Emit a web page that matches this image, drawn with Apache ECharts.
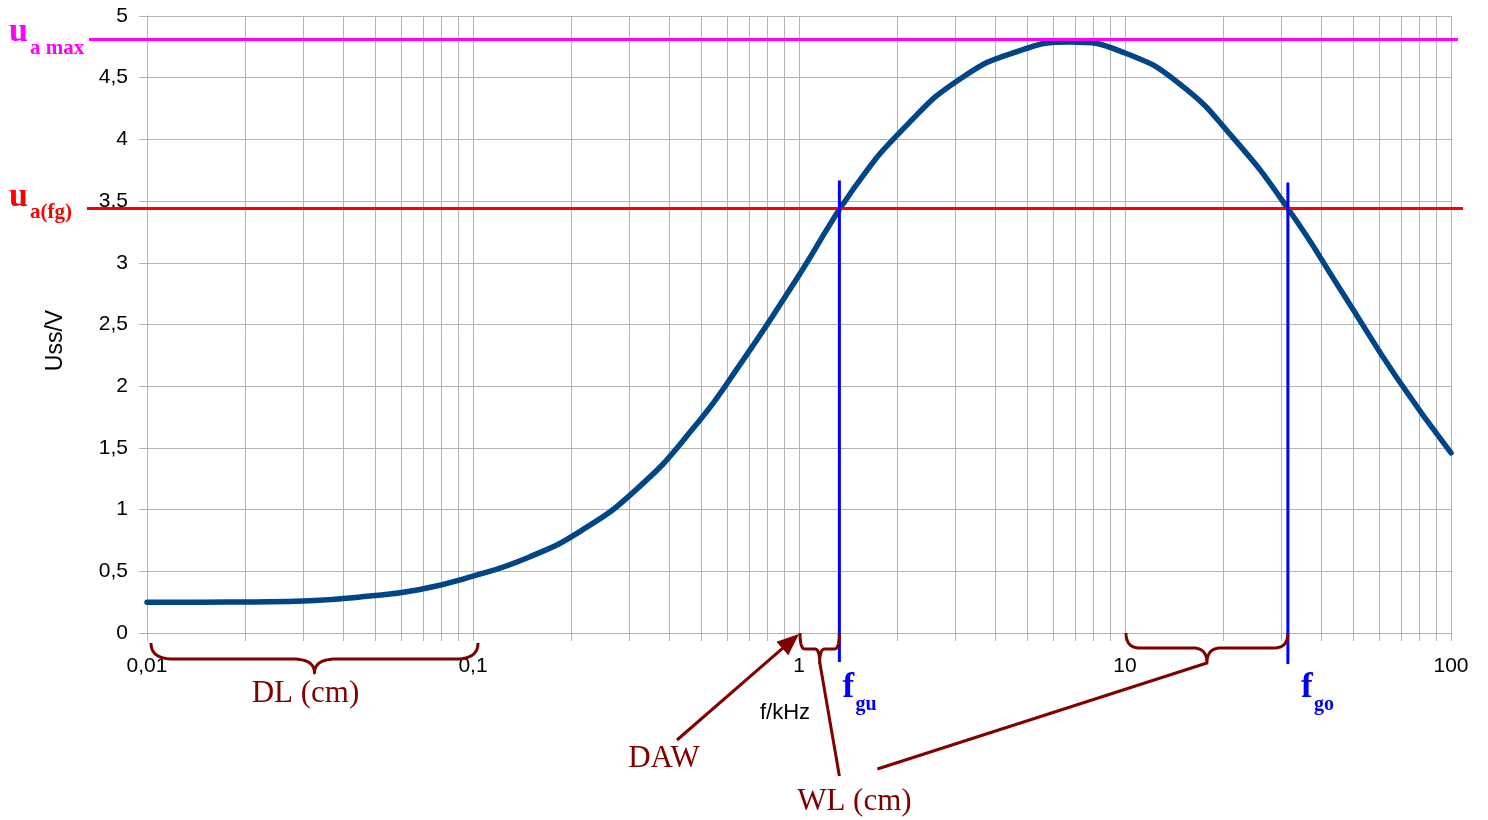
<!DOCTYPE html>
<html><head><meta charset="utf-8">
<script src="https://cdn.jsdelivr.net/npm/echarts@6/dist/echarts.min.js"></script>
<style>html,body{margin:0;padding:0;background:#fff}#c{width:1488px;height:820px}</style>
</head><body><div id="c"></div>
<script>
// ---- data (six readings per decade) ----
const freqKHz = [0.01,0.0147,0.0215,0.0316,0.0464,0.0681,0.1,0.147,0.215,0.316,0.464,0.681,1,1.47,2.15,3.16,4.64,6.81,10,14.7,21.5,31.6,46.4,68.1,100];
const ussV    = [0.25,0.25,0.252,0.262,0.295,0.35,0.46,0.61,0.83,1.16,1.63,2.23,2.90,3.60,4.12,4.50,4.71,4.79,4.70,4.45,4.01,3.44,2.76,2.07,1.46];
const xTickLabels = ['0,01','0,1','1','10','100'];
const yTickLabels = ['0','0,5','1','1,5','2','2,5','3','3,5','4','4,5','5'];
const U_A_MAX = 4.81;
const U_A_FG = 3.44;
const F_GU = 1.33;
const F_GO = 31.6;
const DL_RANGE = [0.01, 0.1];
const WL_RANGES = [[1, F_GU], [10, F_GO]];
const DAW_F = 1;

// vertical grid positions (1..9 x 10^k)
const gridFreqs = [];
for (let e = -2; e <= 1; e++) for (let m = 1; m <= 9; m++) gridFreqs.push(+(m * Math.pow(10, e)).toPrecision(3));
gridFreqs.push(100);

const GRID_C = '#b3b3b3';
const DARKRED = '#800000';
const SERIF = '"Liberation Serif", "Times New Roman", serif';
const SANS = '"Liberation Sans", Arial, sans-serif';

const chart = echarts.init(document.getElementById('c'), null, {renderer: 'canvas'});
const option = {
  animation: false,
  backgroundColor: '#fff',
  grid: {left: 147, right: 37, top: 16, bottom: 187, containLabel: false},
  xAxis: {
    type: 'log', logBase: 10, min: 0.01, max: 100,
    name: 'f/kHz', nameLocation: 'middle', nameGap: 69,
    nameTextStyle: {fontFamily: SANS, fontSize: 22, color: '#000', padding: [0, 28, 0, 0]},
    axisLine: {show: true, lineStyle: {color: GRID_C, width: 1}},
    axisTick: {show: false},
    splitLine: {show: false},
    axisLabel: {
      fontFamily: SANS, fontSize: 21, color: '#000', margin: 23,
      formatter: v => {
        const i = Math.round(Math.log10(v)) + 2;
        return xTickLabels[i] !== undefined ? xTickLabels[i] : '';
      }
    }
  },
  yAxis: {
    type: 'value', min: 0, max: 5, interval: 0.5,
    name: 'Uss/V', nameLocation: 'middle', nameGap: 80,
    nameTextStyle: {fontFamily: SANS, fontSize: 23, color: '#000', padding: [0, 32, 0, 0]},
    axisLine: {show: true, lineStyle: {color: GRID_C, width: 1}},
    axisTick: {show: true, length: 8, lineStyle: {color: GRID_C}},
    splitLine: {show: true, lineStyle: {color: GRID_C, width: 1}},
    axisLabel: {
      fontFamily: SANS, fontSize: 21, color: '#000', margin: 19,
      formatter: v => yTickLabels[Math.round(v * 2)]
    }
  },
  series: [
    {
      type: 'custom', clip: false, silent: true, z: 1,
      data: gridFreqs.map(f => [f]),
      encode: {x: 0},
      renderItem: (params, api) => {
        const f = api.value(0);
        const pTop = api.coord([f, 5]);
        const pBot = api.coord([f, 0]);
        return {
          type: 'line',
          shape: {x1: Math.round(pTop[0]) + 0.5, y1: pTop[1], x2: Math.round(pBot[0]) + 0.5, y2: pBot[1] + 8},
          style: {stroke: GRID_C, lineWidth: 1}
        };
      }
    },
    {
      type: 'line', z: 3,
      data: freqKHz.map((f, i) => [f, ussV[i]]),
      smooth: 0.5,
      showSymbol: false, symbol: 'none',
      lineStyle: {color: '#004586', width: 5.5, join: 'round', cap: 'round'}
    }
  ]
};
chart.setOption(option);

// ---- annotations positioned through the chart's own scales ----
const P = (x, y) => chart.convertToPixel({gridIndex: 0}, [x, y]);
const xL = P(0.01, 0)[0], xR = P(100, 0)[0], y0 = P(1, 0)[1];
const yMax = P(1, U_A_MAX)[1], yFg = P(1, U_A_FG)[1];
const xGu = P(F_GU, 0)[0], xGo = P(F_GO, 0)[0];
const xDaw = P(DAW_F, 0)[0];

function quad(pts, p0, c, p1) {
  for (let i = 1; i <= 12; i++) {
    const t = i / 12, a = (1 - t) * (1 - t), b = 2 * (1 - t) * t, d = t * t;
    pts.push([a * p0[0] + b * c[0] + d * p1[0], a * p0[1] + b * c[1] + d * p1[1]]);
  }
}
function bracePts(xa, xb, yTop, yMid, yTip, r) {
  const xc = (xa + xb) / 2;
  const pts = [[xa, yTop]];
  quad(pts, [xa, yTop], [xa, yMid], [xa + r, yMid]);
  pts.push([xc - r, yMid]);
  quad(pts, [xc - r, yMid], [xc, yMid], [xc, yTip]);
  quad(pts, [xc, yTip], [xc, yMid], [xc + r, yMid]);
  pts.push([xb - r, yMid]);
  quad(pts, [xb - r, yMid], [xb, yMid], [xb, yTop]);
  return pts;
}
const braceEl = pts => ({type: 'polyline', z: 100, silent: true, shape: {points: pts},
  style: {stroke: DARKRED, lineWidth: 3, fill: null, lineJoin: 'round'}});
const lineEl = (x1, y1, x2, y2, stroke, w) => ({type: 'line', z: 100, silent: true,
  shape: {x1, y1, x2, y2}, style: {stroke, lineWidth: w}});
const textEl = (text, x, y, font, fill, align) => ({type: 'text', z: 101, silent: true,
  style: {text, x, y, font, fill, textAlign: align || 'left', textVerticalAlign: 'middle', align: align || 'left', verticalAlign: 'middle'}});

const g = [];
// reference lines
g.push(lineEl(xL - 58, yMax, xR + 7, yMax, '#ff00ff', 3));
g.push(lineEl(xL - 60, yFg, xR + 12, yFg, '#ff0000', 3));
g.push(lineEl(xGu, yFg - 28, xGu, y0 + 29, '#0000ff', 3));
g.push(lineEl(xGo, yFg - 26, xGo, y0 + 31, '#0000ff', 3));
// labels for reference lines
g.push(textEl('u', 9, yMax - 7, 'bold 34px ' + SERIF, '#ff00ff'));
g.push(textEl('a max', 30, yMax + 9, 'bold 21px ' + SERIF, '#ff00ff'));
g.push(textEl('u', 9, yFg - 11, 'bold 34px ' + SERIF, '#ff0000'));
g.push(textEl('a(fg)', 30, yFg + 4, 'bold 21px ' + SERIF, '#ff0000'));
g.push(textEl('f', xGu + 3, y0 + 55, 'bold 35px ' + SERIF, '#0000ff'));
g.push(textEl('gu', xGu + 16, y0 + 72, 'bold 20px ' + SERIF, '#0000ff'));
g.push(textEl('f', xGo + 13, y0 + 55, 'bold 35px ' + SERIF, '#0000ff'));
g.push(textEl('go', xGo + 26, y0 + 72, 'bold 20px ' + SERIF, '#0000ff'));

// DL brace
const dlA = P(DL_RANGE[0], 0)[0] + 4, dlB = P(DL_RANGE[1], 0)[0] + 5;
g.push(braceEl(bracePts(dlA, dlB, y0 + 10, y0 + 26, y0 + 40, 22)));
g.push(textEl('DL (cm)', (dlA + dlB) / 2 - 9, y0 + 61, '31px ' + SERIF, DARKRED, 'center'));

// WL braces
const w1a = P(WL_RANGES[0][0], 0)[0] + 1, w1b = P(WL_RANGES[0][1], 0)[0];
const w2a = P(WL_RANGES[1][0], 0)[0] + 1, w2b = P(WL_RANGES[1][1], 0)[0];
g.push(braceEl(bracePts(w1a, w1b, y0, y0 + 16, y0 + 30, 5)));
g.push(braceEl(bracePts(w2a, w2b, y0, y0 + 15, y0 + 30, 14)));
const wlX = xGu + 15, wlY = y0 + 169;
g.push(textEl('WL (cm)', wlX, wlY, '31px ' + SERIF, DARKRED, 'center'));
g.push(lineEl((w1a + w1b) / 2, y0 + 29, wlX - 15, wlY - 26, DARKRED, 3));
g.push(lineEl((w2a + w2b) / 2, y0 + 30, wlX + 23, wlY - 33, DARKRED, 3));

// DAW arrow
const dawX = xDaw - 135, dawY = y0 + 126;
g.push(textEl('DAW', dawX, dawY, '31px ' + SERIF, DARKRED, 'center'));
(function () {
  const ax = dawX + 13, ay = dawY - 19, bx = xDaw, by = y0 + 1;
  const dx = bx - ax, dy = by - ay, L = Math.hypot(dx, dy);
  const ux = dx / L, uy = dy / L, nx = -uy, ny = ux;
  const hl = 22, hw = 9;
  const cx = bx - ux * hl, cy = by - uy * hl;
  g.push(lineEl(ax, ay, cx + ux * 2, cy + uy * 2, DARKRED, 3));
  g.push({type: 'polygon', z: 100, silent: true,
    shape: {points: [[bx, by], [cx + nx * hw, cy + ny * hw], [cx - nx * hw, cy - ny * hw]]},
    style: {fill: DARKRED}});
})();

chart.setOption({graphic: {elements: g}});
</script>
</body></html>
